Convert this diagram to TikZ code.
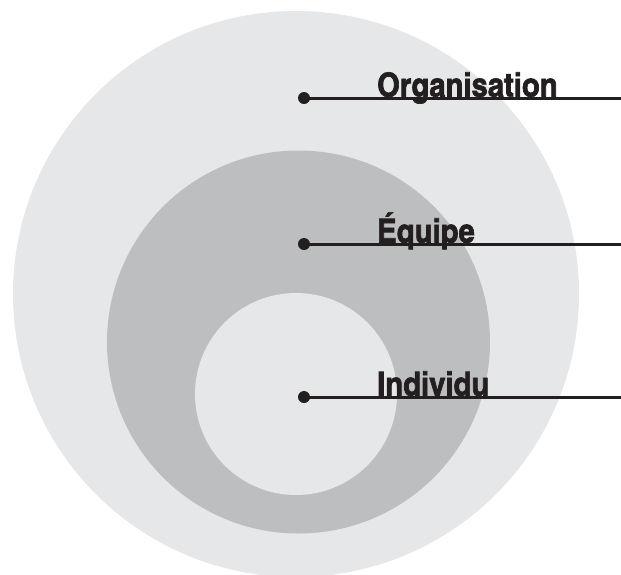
\documentclass[tikz,border=0pt]{standalone}
\usepackage{fontspec}
\setmainfont{TeX Gyre Heros Cn}[FakeStretch=1.08,BoldFeatures={FakeBold=2}]
\usetikzlibrary{positioning}
\definecolor{lightdisk}{HTML}{E6E7E8}
\definecolor{darkdisk}{HTML}{BDBEC0}
\definecolor{inkblack}{HTML}{231F20}
\tikzset{disk/.style={circle,inner sep=0pt,outer sep=0pt},
         pin dot/.style={circle,fill=inkblack,inner sep=0pt,minimum size=12pt},
         pin line/.style={inkblack,line width=3pt},
         lbl/.style={inkblack,font=\bfseries\fontsize{33}{38}\selectfont,inner sep=0pt,anchor=base west}}

\begin{document}
\begin{tikzpicture}[x=1pt,y=-1pt]
\useasboundingbox (0,0) rectangle (621,574);

\node[disk,fill=lightdisk,minimum size=566pt] (ORG) at (296,294) {};
\node[disk,fill=darkdisk,minimum size=383pt] (EQ) at (298.5,342) {};
\node[disk,fill=lightdisk,minimum size=202pt] (IND) at (296,394) {};

\node[pin dot] (D1) at (304,98) {};
\node[pin dot] (D2) at (304,244) {};
\node[pin dot] (D3) at (304,397) {};
\coordinate (E1) at (621,98);
\coordinate (E2) at (621,244);
\coordinate (E3) at (621,397);

\draw[pin line] (D1.center) -- (E1);
\draw[pin line] (D2.center) -- (E2);
\draw[pin line] (D3.center) -- (E3);

\node[lbl] (L1) at ([xshift=73pt,yshift=1.5pt]D1.center) {Organisation};
\node[lbl] (L2) at ([xshift=73pt,yshift=1.5pt]D2.center) {Équipe};
\node[lbl] (L3) at ([xshift=73pt,yshift=1.5pt]D3.center) {Individu};

\end{tikzpicture}
\end{document}
